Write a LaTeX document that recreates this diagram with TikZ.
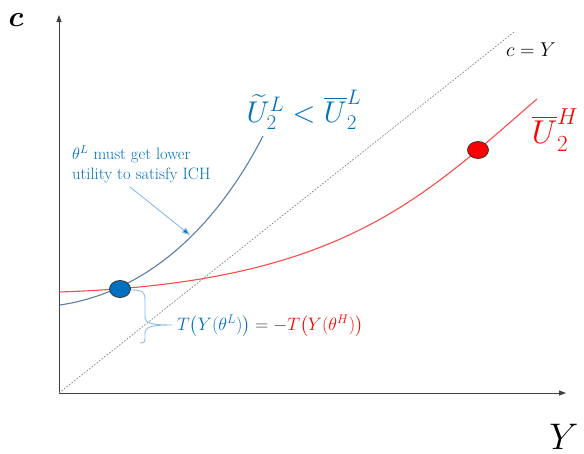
\RequirePackage{fix-cm}
\documentclass[tikz,border=0pt]{standalone}
\usepackage{amsmath}
\usetikzlibrary{arrows.meta,shapes.geometric}
\definecolor{axisgray}{HTML}{404040}
\definecolor{txtblue}{HTML}{0070C0}
\definecolor{curveblue}{HTML}{5B7FA8}
\definecolor{curvered}{HTML}{FF4A4A}
\definecolor{lightblue}{HTML}{8CBDE8}
\definecolor{dotred}{HTML}{FF0000}
\tikzset{
  axisline/.style={draw=axisgray, line width=0.8pt, -{Triangle[length=7pt,width=5pt]}},
  dotnode/.style={ellipse, minimum width=21pt, minimum height=17pt, inner sep=0pt, draw=black!80, line width=0.8pt},
  lbl/.style={inner sep=0pt},
}
\begin{document}
\begin{tikzpicture}[x=1pt,y=-1pt]
\useasboundingbox (0,0) rectangle (584,453);
% axes
\coordinate (O) at (59,393);
\coordinate (ytop) at (59,15);
\coordinate (xend) at (566,393);
\draw[axisline] (O) -- (ytop);
\draw[axisline] (O) -- (xend);
\node[lbl, font=\fontsize{29}{32}\selectfont] (clab) at (16,20) {$\boldsymbol{c}$};
\node[lbl, font=\fontsize{37}{42}\selectfont] (Ylab) at (564,437) {$Y$};
% 45 degree line
\coordinate (dtop) at (514,32);
\draw[gray, line width=0.7pt, dash pattern=on 1.6pt off 1.6pt] (O) -- (dtop);
\node[lbl, font=\fontsize{20}{24}\selectfont] (cYlab) at (531,50) {$c=Y$};
% red curve
\coordinate (rs) at (59,292);
\coordinate (re) at (537,99);
\draw[curvered, line width=1.1pt] (rs) .. controls (340,283) and (420,200) .. (re);
% blue curve
\coordinate (bs) at (60,305);
\coordinate (be) at (263,136);
\draw[curveblue, line width=1.1pt] (bs) .. controls (160,290) and (225,210) .. (be);
% dots
\node[dotnode, fill=txtblue] (bdot) at (120,289) {};
\node[dotnode, fill=dotred] (rdot) at (478,150) {};
% labels
\node[lbl, text=txtblue, font=\fontsize{30}{34}\selectfont] (Ulab) at (304,110) {$\widetilde{U}_2^L<\overline{U}_2^L$};
\node[lbl, text=dotred, font=\fontsize{33}{37}\selectfont] (UHlab) at (555,130) {$\overline{U}_2^H$};
% annotation
\node[lbl, text=txtblue, anchor=north west, align=left, font=\fontsize{16.5}{20}\selectfont] (ann) at (72,145) {$\theta^L$ must get lower\\utility to satisfy ICH};
\coordinate (arrs) at (130,187);
\coordinate (arre) at (190,235);
\draw[lightblue, line width=0.9pt, -{Triangle[length=8pt,width=6pt,fill=txtblue]}] (arrs) -- (arre);
% brace
\coordinate (btip) at (172,325);
\draw[lightblue, line width=0.9pt] (131,290) .. controls (143,290) and (145,292) .. (145,300) -- (145,316) .. controls (145,323) and (150,325) .. (btip) .. controls (150,325) and (145,327) .. (145,334) -- (145,338) .. controls (145,342) and (144,343) .. (140,343);
\node[lbl, anchor=west, font=\fontsize{18}{21}\selectfont] (Teq) at (177,326) {$\color{txtblue}T\big(Y(\theta^L)\big)\color{axisgray}=-\color{dotred}T\big(Y(\theta^H)\big)$};
\end{tikzpicture}
\end{document}
